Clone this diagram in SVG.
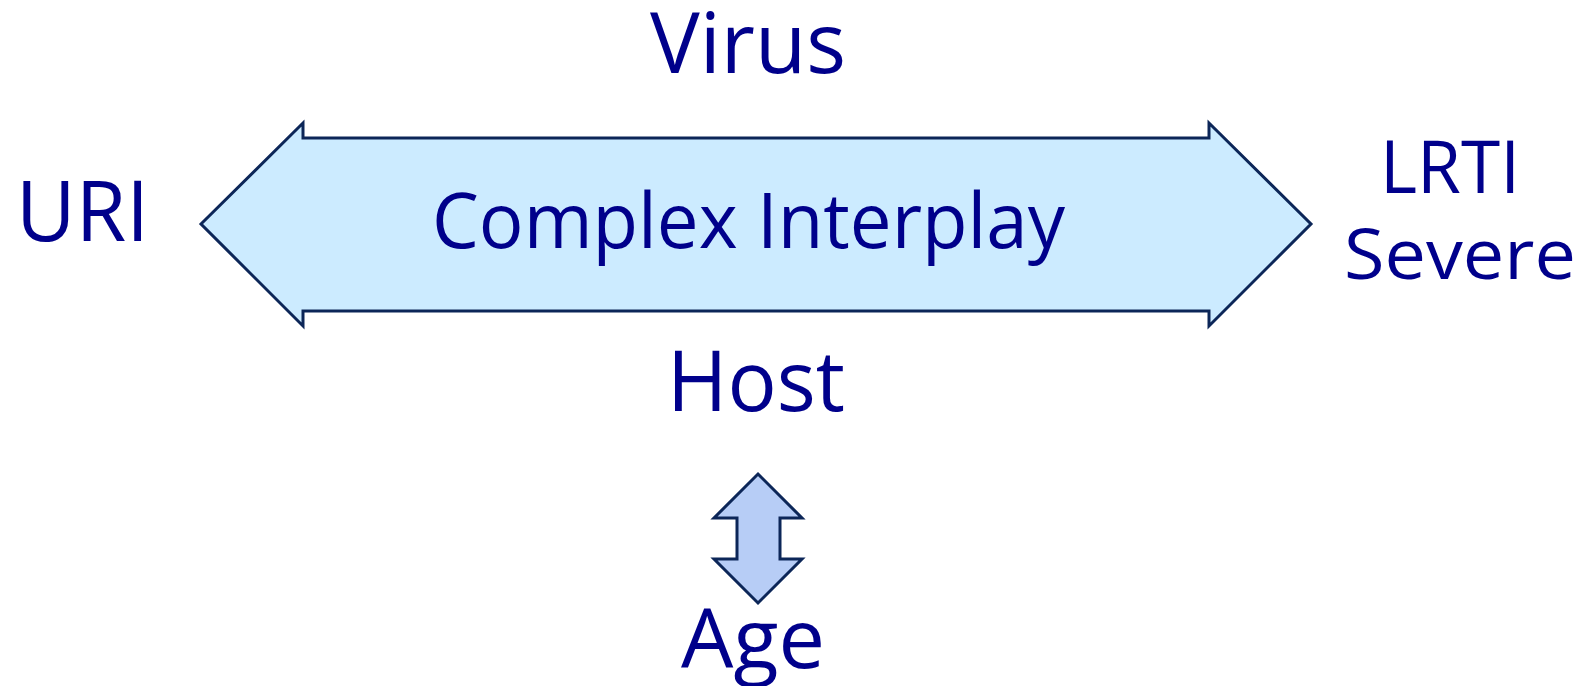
<svg xmlns="http://www.w3.org/2000/svg" width="1585" height="686" viewBox="0 0 1585 686">
<style>
.t{font-family:"Open Sans","Liberation Sans",sans-serif;fill:#00008B;}
.arr{stroke:#0C2658;stroke-width:3;stroke-linejoin:miter;}
</style>
<rect width="1585" height="686" fill="#FFFFFF"/>
<g id="connectors">
<polygon id="big-arrow" class="arr" fill="#CCEBFF" points="201,224 303,123 303,138 1209,138 1209,123 1311,224 1209,326 1209,311 303,311 303,326"/>
<polygon id="small-arrow" class="arr" fill="#B7CDF6" points="758,474 802,518 780,518 780,559 802,559 758,603 714,559 737,559 737,518 714,518"/>
</g>
<g id="virus"><text class="t" x="650" y="73" font-size="84" textLength="196" lengthAdjust="spacingAndGlyphs">Virus</text></g>
<g id="uri"><text class="t" x="16" y="241" font-size="84" textLength="133" lengthAdjust="spacingAndGlyphs">URI</text></g>
<g id="lrti"><text class="t" x="1380" y="193" font-size="74" textLength="140" lengthAdjust="spacingAndGlyphs">LRTI</text><text class="t" x="1344" y="279" font-size="70" textLength="232" lengthAdjust="spacingAndGlyphs">Severe</text></g>
<g id="complex"><text class="t" x="432" y="248" font-size="76" textLength="633" lengthAdjust="spacingAndGlyphs">Complex Interplay</text></g>
<g id="host"><text class="t" x="667" y="411" font-size="85" textLength="178" lengthAdjust="spacingAndGlyphs">Host</text></g>
<g id="age"><text class="t" x="681" y="668" font-size="82" textLength="144" lengthAdjust="spacingAndGlyphs">Age</text></g>
</svg>
